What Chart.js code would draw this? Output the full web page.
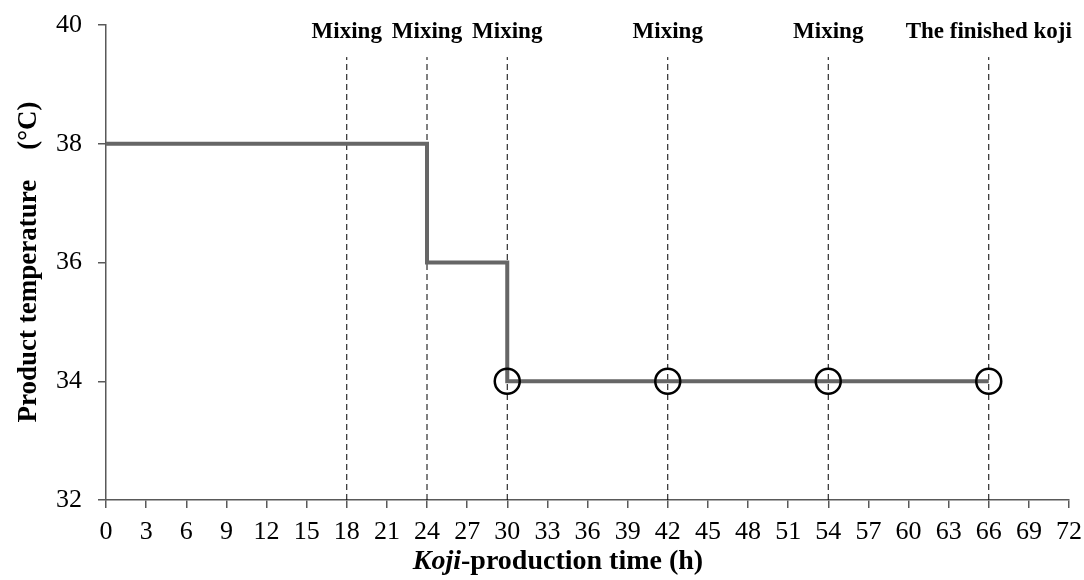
<!DOCTYPE html>
<html>
<head>
<meta charset="utf-8">
<script src="https://cdn.jsdelivr.net/npm/chart.js@4.4.1/dist/chart.umd.min.js"></script>
<style>
  html, body { margin: 0; padding: 0; background: #fff; }
  #wrap { width: 1084px; height: 580px; position: relative; }
</style>
</head>
<body>
<div id="wrap"><canvas id="c" width="1084" height="580"></canvas></div>
<script>
// Temperature programme (time in h, product temperature in °C)
const stepTimes = [0, 24, 24, 30, 30, 66];
const stepTemps = [38, 38, 36, 36, 34, 34];

// Mixing / finishing events
const eventTimes = [18, 24, 30, 42, 54, 66];
const eventLabels = ['Mixing', 'Mixing', 'Mixing', 'Mixing', 'Mixing', 'The finished koji'];
const eventLineTop = 39.46;

// Circled points on the 34 °C plateau
const markerTimes = [30, 42, 54, 66];
const markerTemps = [34, 34, 34, 34];

const xMin = 0, xMax = 72, xStep = 3;
const yMin = 32, yMax = 40, yStep = 2;

const SERIF = '"Liberation Serif", "Times New Roman", serif';
const AXIS_COLOR = '#595959';

const datasets = [];

eventTimes.forEach((t) => {
  datasets.push({
    data: [{ x: t, y: yMin }, { x: t, y: eventLineTop }],
    borderColor: '#000',
    borderWidth: 1,
    borderDash: [6, 4],
    pointRadius: 0,
    showLine: true,
    order: 3
  });
});

datasets.push({
  data: stepTimes.map((t, i) => ({ x: t, y: stepTemps[i] })),
  borderColor: '#666666',
  borderWidth: 4,
  pointRadius: 0,
  showLine: true,
  order: 2
});

datasets.push({
  data: markerTimes.map((t, i) => ({ x: t, y: markerTemps[i] })),
  borderColor: '#000',
  borderWidth: 2.5,
  backgroundColor: 'rgba(0,0,0,0)',
  pointRadius: 12.5,
  showLine: false,
  order: 1
});

const textPlugin = {
  id: 'texts',
  afterDraw(chart) {
    const ctx = chart.ctx;
    const xs = chart.scales.x;
    ctx.save();
    ctx.fillStyle = '#000';
    ctx.textBaseline = 'alphabetic';
    ctx.textAlign = 'center';
    ctx.font = 'bold 23px ' + SERIF;
    eventTimes.forEach((t, i) => {
      ctx.fillText(eventLabels[i], xs.getPixelForValue(t), 38);
    });

    // x-axis title with italic "Koji"
    const partA = 'Koji';
    const partB = '-production time (h)';
    const fA = 'italic bold 28px ' + SERIF;
    const fB = 'bold 28px ' + SERIF;
    ctx.font = fA; const wA = ctx.measureText(partA).width;
    ctx.font = fB; const wB = ctx.measureText(partB).width;
    const cx = 558;
    const x0 = cx - (wA + wB) / 2;
    ctx.textAlign = 'left';
    ctx.font = fA; ctx.fillText(partA, x0, 569);
    ctx.font = fB; ctx.fillText(partB, x0 + wA, 569);

    // y-axis title, rotated; the unit is set apart from the words
    const titleA = 'Product temperature';
    const titleB = '(°C)';
    const gap = 30;
    ctx.font = 'bold 27px ' + SERIF;
    const tA = ctx.measureText(titleA).width;
    const tB = ctx.measureText(titleB).width;
    ctx.translate(36, 262);
    ctx.rotate(-Math.PI / 2);
    const start = -(tA + gap + tB) / 2;
    ctx.fillText(titleA, start, 0);
    ctx.fillText(titleB, start + tA + gap, 0);
    ctx.restore();
  }
};

new Chart(document.getElementById('c'), {
  type: 'scatter',
  data: { datasets },
  plugins: [textPlugin],
  options: {
    responsive: false,
    animation: false,
    events: [],
    layout: { padding: { left: 0, right: 15, top: 25, bottom: 0 } },
    plugins: { legend: { display: false }, tooltip: { enabled: false } },
    scales: {
      x: {
        type: 'linear',
        min: xMin, max: xMax,
        afterBuildTicks(scale) {
          const t = [];
          for (let v = xMin; v <= xMax; v += xStep) t.push({ value: v });
          scale.ticks = t;
        },
        afterFit(scale) {
          scale.height = 80;
          scale.paddingLeft = 0;
          scale.paddingRight = 0;
        },
        border: { display: true, color: AXIS_COLOR, width: 1.5 },
        grid: { display: true, drawOnChartArea: false, drawTicks: true, tickLength: 8, color: AXIS_COLOR, lineWidth: 1.5 },
        ticks: { color: '#000', font: { family: SERIF, size: 26 }, padding: 9, maxRotation: 0, autoSkip: false }
      },
      y: {
        type: 'linear',
        min: yMin, max: yMax,
        afterBuildTicks(scale) {
          const t = [];
          for (let v = yMin; v <= yMax; v += yStep) t.push({ value: v });
          scale.ticks = t;
        },
        afterFit(scale) {
          scale.width = 106;
          scale.paddingTop = 0;
          scale.paddingBottom = 0;
        },
        border: { display: true, color: AXIS_COLOR, width: 1.5 },
        grid: { display: true, drawOnChartArea: false, drawTicks: true, tickLength: 8, color: AXIS_COLOR, lineWidth: 1.5 },
        ticks: { color: '#000', font: { family: SERIF, size: 26 }, padding: 16 }
      }
    }
  }
});
</script>
</body>
</html>
